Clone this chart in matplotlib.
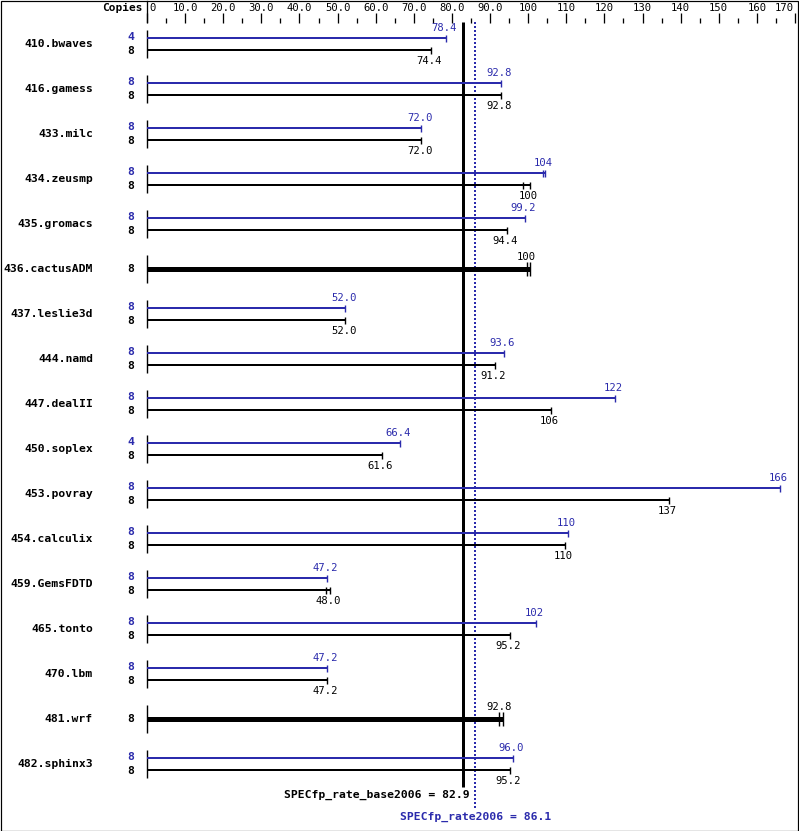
import matplotlib
matplotlib.use("Agg")
import matplotlib.pyplot as plt
from matplotlib.patches import Rectangle

# ---------------- data ----------------
benchmarks = ["410.bwaves", "416.gamess", "433.milc", "434.zeusmp", "435.gromacs",
              "436.cactusADM", "437.leslie3d", "444.namd", "447.dealII", "450.soplex",
              "453.povray", "454.calculix", "459.GemsFDTD", "465.tonto", "470.lbm",
              "481.wrf", "482.sphinx3"]
peak_copies = [4, 8, 8, 8, 8, None, 8, 8, 8, 4, 8, 8, 8, 8, 8, None, 8]
base_copies = [8, 8, 8, 8, 8, 8, 8, 8, 8, 8, 8, 8, 8, 8, 8, 8, 8]
peak_values = [78.4, 92.8, 72.0, 104.4, 99.2, None, 52.0, 93.6, 122.7, 66.4,
               166, 110.4, 47.2, 102, 47.2, None, 96.0]
peak_labels = ["78.4", "92.8", "72.0", "104", "99.2", None, "52.0", "93.6", "122", "66.4",
               "166", "110", "47.2", "102", "47.2", None, "96.0"]
base_values = [74.4, 92.8, 72.0, 100.5, 94.4, 100.5, 52.0, 91.2, 106, 61.6,
               137, 109.7, 47.9, 95.2, 47.2, 93.3, 95.2]
base_labels = ["74.4", "92.8", "72.0", "100", "94.4", "100", "52.0", "91.2", "106", "61.6",
               "137", "110", "48.0", "95.2", "47.2", "92.8", "95.2"]
# extra run ticks (min of runs) visible as double end marks
peak_extra = {3: 104.0}
base_extra = {3: 98.7, 5: 99.8, 12: 47.0, 15: 92.4}
base_score = 82.9
peak_score = 86.1
axis_ticks = list(range(0, 171, 10))
axis_tick_labels = ["0", "10.0", "20.0", "30.0", "40.0", "50.0", "60.0", "70.0", "80.0",
                    "90.0", "100", "110", "120", "130", "140", "150", "160", "170"]

# ---------------- layout helpers ----------------
W, H = 799, 831
X0PX, X170PX = 147, 795
UPP = 170.0 / (X170PX - X0PX)  # units per pixel


def px2x(px):
    return (px - X0PX) * UPP


BLUE = "#2b2bac"
BLACK = "#000000"
MONO = "DejaVu Sans Mono"

fig = plt.figure(figsize=(W / 100, H / 100), dpi=100)
ax = fig.add_axes([0, 0, 1, 1])
ax.set_xlim(px2x(0), px2x(W))
ax.set_ylim(H, 0)  # vertical in pixel rows
ax.axis("off")

PT = 72 / 100.0  # points per pixel

# top axis ticks
for v in range(0, 171, 5):
    if v % 10 == 0:
        ax.plot([v, v], [13, 23], color=BLACK, lw=1 * PT * 1.3, solid_capstyle="butt")
    else:
        ax.plot([v, v], [18, 23], color=BLACK, lw=1 * PT * 1.3, solid_capstyle="butt")
for v, lab in zip(axis_ticks, axis_tick_labels):
    if v == 0:
        ax.text(px2x(149), 8, lab, ha="left", va="center", family=MONO, fontsize=7.6)
    elif v == 170:
        ax.text(px2x(794), 8, lab, ha="right", va="center", family=MONO, fontsize=7.6)
    else:
        ax.text(v, 8, lab, ha="center", va="center", family=MONO, fontsize=7.6)
ax.plot([px2x(147), px2x(147)], [1, 22], color=BLACK, lw=1 * PT * 1.3)
ax.text(px2x(143), 8, "Copies", ha="right", va="center", family=MONO,
        fontsize=8, fontweight="bold")

# reference lines
ax.plot([base_score, base_score], [22, 787], color=BLACK, lw=3 * PT, solid_capstyle="butt")
ax.plot([peak_score, peak_score], [22, 808], color=BLUE, lw=2 * PT,
        linestyle=(0, (1, 1)), solid_capstyle="butt")
ax.text(px2x(470), 795, "SPECfp_rate_base2006 = %.1f" % base_score, ha="right", va="center",
        family=MONO, fontsize=8.2, fontweight="bold", color=BLACK)
ax.text(peak_score, 817, "SPECfp_rate2006 = %.1f" % peak_score, ha="center", va="center",
        family=MONO, fontsize=8.2, fontweight="bold", color=BLUE)


def endcap(x, y, half, color):
    ax.plot([x, x], [y - half, y + half], color=color, lw=1.4 * PT, solid_capstyle="butt")


for i, name in enumerate(benchmarks):
    c = 44 + 45 * i
    ax.text(px2x(93), c, name, ha="right", va="center", family=MONO,
            fontsize=8.2, fontweight="bold")
    ax.plot([0, 0], [c - 14, c + 14], color=BLACK, lw=1.4 * PT, solid_capstyle="butt")
    if peak_values[i] is None:
        # single combined bar
        y = c
        ax.text(px2x(134), y, str(base_copies[i]), ha="right", va="center", family=MONO,
                fontsize=8.2, fontweight="bold", color=BLACK)
        ax.plot([0, base_values[i]], [y, y], color=BLACK, lw=5 * PT, solid_capstyle="butt")
        endcap(base_values[i], y, 7, BLACK)
        if i in base_extra:
            endcap(base_extra[i], y, 7, BLACK)
        ax.text(base_values[i] - 1, y - 12, base_labels[i], ha="center", va="center",
                family=MONO, fontsize=7.6, color=BLACK)
    else:
        yp, yb = c - 6, c + 6
        ax.text(px2x(134), yp - 1, str(peak_copies[i]), ha="right", va="center", family=MONO,
                fontsize=8.2, fontweight="bold", color=BLUE)
        ax.text(px2x(134), yb + 1, str(base_copies[i]), ha="right", va="center", family=MONO,
                fontsize=8.2, fontweight="bold", color=BLACK)
        ax.plot([0, peak_values[i]], [yp, yp], color=BLUE, lw=2 * PT, solid_capstyle="butt")
        endcap(peak_values[i], yp, 3.5, BLUE)
        if i in peak_extra:
            endcap(peak_extra[i], yp, 3.5, BLUE)
        ax.text(peak_values[i] - 0.4, yp - 10, peak_labels[i], ha="center", va="center",
                family=MONO, fontsize=7.6, color=BLUE)
        ax.plot([0, base_values[i]], [yb, yb], color=BLACK, lw=2 * PT, solid_capstyle="butt")
        endcap(base_values[i], yb, 3.5, BLACK)
        if i in base_extra:
            endcap(base_extra[i], yb, 3.5, BLACK)
        ax.text(base_values[i] - 0.4, yb + 11, base_labels[i], ha="center", va="center",
                family=MONO, fontsize=7.6, color=BLACK)

# outer frame
fig.patches.append(Rectangle((0.5 / W, 0.5 / H), 1 - 1.5 / W, 1 - 1.5 / H,
                             transform=fig.transFigure, fill=False, edgecolor=BLACK, lw=1.2 * PT))

fig.savefig("out.png", dpi=100)
